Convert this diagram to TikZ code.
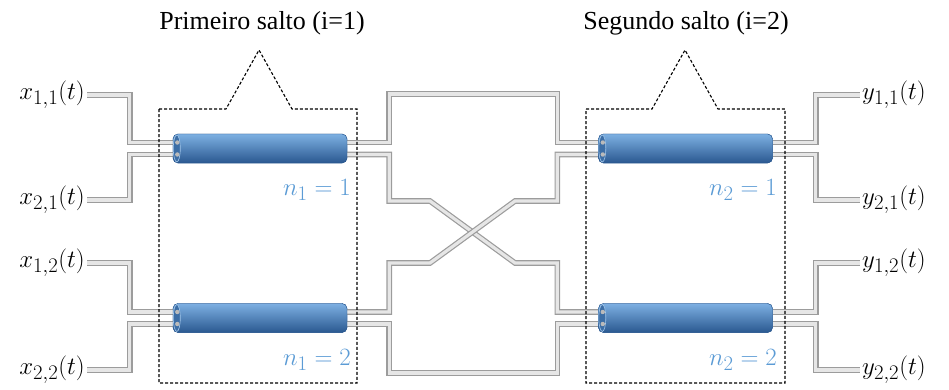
\documentclass[tikz,border=0pt]{standalone}
\usepackage{fontspec}
\setmainfont{Liberation Serif}
\usetikzlibrary{calc}
\DeclareMathSizes{26}{26}{20}{15}

\definecolor{cylTop}{HTML}{7DB0E2}
\definecolor{cylMid}{HTML}{4A86C9}
\definecolor{cylBot}{HTML}{2A5890}
\definecolor{cylFace}{HTML}{3C6EA6}
\definecolor{labelBlue}{HTML}{5B9BD5}
\definecolor{fiberEdge}{HTML}{9C9C9C}
\definecolor{fiberCore}{HTML}{E6E6E6}

\begin{document}
\begin{tikzpicture}[x=1pt,y=-1pt,
  fiber/.style={draw=fiberEdge, line width=1.2pt, double=fiberCore,
    double distance=3.2pt, line join=miter},
  cylbody/.style={rectangle, rounded corners=5pt, minimum width=174pt,
    minimum height=29pt, inner sep=0pt, top color=cylTop,
    middle color=cylMid, bottom color=cylBot, draw=cylBot, line width=0.4pt},
  sig/.style={font=\fontsize{26}{30}\selectfont, inner sep=2pt},
  idx/.style={font=\fontsize{26}{30}\selectfont, text=labelBlue, inner sep=1pt},
  title/.style={font=\fontsize{26}{30}\selectfont, inner sep=0pt},
  hopbox/.style={draw=black, line width=1.1pt, dash pattern=on 3pt off 2pt}
]
\useasboundingbox (0,0) rectangle (949,389);

% coupler nodes (cylinder bodies)
\node[cylbody] (c1) at (260,148.5) {};
\node[cylbody] (c2) at (685.5,148.5) {};
\node[cylbody] (c3) at (260,318) {};
\node[cylbody] (c4) at (685.5,318) {};

% input and output signals
\node[sig, anchor=east] (x11) at (87,95)  {$x_{1,1}(t)$};
\node[sig, anchor=east] (x21) at (87,200) {$x_{2,1}(t)$};
\node[sig, anchor=east] (x12) at (87,263) {$x_{1,2}(t)$};
\node[sig, anchor=east] (x22) at (87,370) {$x_{2,2}(t)$};
\node[sig, anchor=west] (y11) at (860,95)  {$y_{1,1}(t)$};
\node[sig, anchor=west] (y21) at (860,200) {$y_{2,1}(t)$};
\node[sig, anchor=west] (y12) at (860,263) {$y_{1,2}(t)$};
\node[sig, anchor=west] (y22) at (860,370) {$y_{2,2}(t)$};

% routing points between the two hops
\coordinate (topRun) at (473,94);
\coordinate (botRun) at (473,373);
\coordinate (xa) at (430,201);
\coordinate (xb) at (515,263);
\coordinate (xc) at (430,263);
\coordinate (xd) at (515,201);

% fibers: inputs to first hop
\draw[fiber] (x11.east) -| ([xshift=-43pt,yshift=6pt]c1.west) -- ([yshift=6pt]c1.west);
\draw[fiber] (x21.east) -| ([xshift=-43pt,yshift=-6pt]c1.west) -- ([yshift=-6pt]c1.west);
\draw[fiber] (x12.east) -| ([xshift=-43pt,yshift=6pt]c3.west) -- ([yshift=6pt]c3.west);
\draw[fiber] (x22.east) -| ([xshift=-43pt,yshift=-6pt]c3.west) -- ([yshift=-6pt]c3.west);

% fibers: second hop to outputs
\draw[fiber] ([yshift=6pt]c2.east) -- ([xshift=43pt,yshift=6pt]c2.east) |- (y11.west);
\draw[fiber] ([yshift=-6pt]c2.east) -- ([xshift=43pt,yshift=-6pt]c2.east) |- (y21.west);
\draw[fiber] ([yshift=6pt]c4.east) -- ([xshift=43pt,yshift=6pt]c4.east) |- (y12.west);
\draw[fiber] ([yshift=-6pt]c4.east) -- ([xshift=43pt,yshift=-6pt]c4.east) |- (y22.west);

% fibers: interconnection between the hops
\draw[fiber] ([yshift=6pt]c1.east) -- ++(42,0) |- (topRun)
  -| ([xshift=-41pt,yshift=6pt]c2.west) -- ([yshift=6pt]c2.west);
\draw[fiber] ([yshift=-6pt]c3.east) -- ++(42,0) |- (botRun)
  -| ([xshift=-41pt,yshift=-6pt]c4.west) -- ([yshift=-6pt]c4.west);
\draw[fiber] ([yshift=-6pt]c1.east) -- ++(42,0) |- (xa) -- (xb)
  -| ([xshift=-41pt,yshift=6pt]c4.west) -- ([yshift=6pt]c4.west);
\draw[fiber] ([yshift=-6pt]c2.west) -- ++(-41,0) |- (xd) -- (xc)
  -| ([xshift=42pt,yshift=6pt]c3.east) -- ([yshift=6pt]c3.east);

% cylinders redrawn on top of the fiber ends, with their end faces
\foreach \c in {c1,c2,c3,c4}{
  \node[cylbody] at (\c) {};
  \draw[fill=cylFace, draw=cylTop!70!white, line width=0.6pt]
    ([xshift=4pt]\c.west) ellipse [x radius=3.5pt, y radius=13.5pt];
  \fill[fiberEdge!70] ([xshift=4.5pt,yshift=6pt]\c.west) circle [radius=2.2pt];
  \fill[fiberEdge!70] ([xshift=4.5pt,yshift=-6pt]\c.west) circle [radius=2.2pt];
}

% coupler indices
\node[idx, anchor=east] (n11) at (352,190) {$n_1=1$};
\node[idx, anchor=east] (n12) at (352,360) {$n_1=2$};
\node[idx, anchor=east] (n21) at (778,190) {$n_2=1$};
\node[idx, anchor=east] (n22) at (778,360) {$n_2=2$};

% hop enclosures with their callouts
\draw[hopbox] (159,109) -- (226,109) -- (259,50) -- (292,109) -- (357,109)
  -- (357,383) -- (159,383) -- cycle;
\draw[hopbox] (586,109) -- (652,109) -- (685,50) -- (718,109) -- (785,109)
  -- (785,383) -- (586,383) -- cycle;

\node[title] (h1) at (262,23) {Primeiro salto (i=1)};
\node[title] (h2) at (686,23) {Segundo salto (i=2)};
\end{tikzpicture}
\end{document}
